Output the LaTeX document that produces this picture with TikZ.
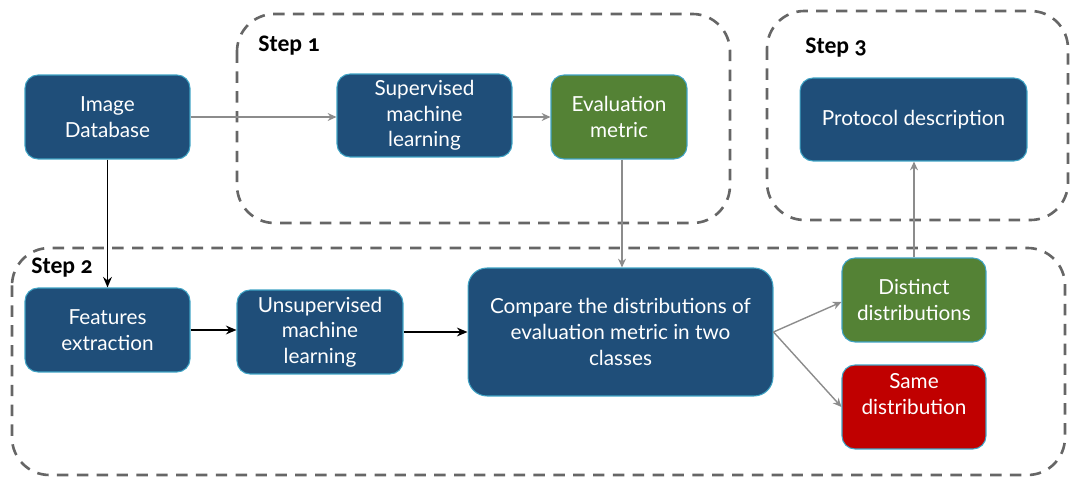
\documentclass[tikz,border=0pt]{standalone}
\usepackage{fontspec}
\setmainfont{Lato}
\newfontfamily\stepfont[Numbers=OldStyle]{Carlito}
\usetikzlibrary{arrows.meta}
\definecolor{dblue}{HTML}{1F4E79}
\definecolor{dgreen}{HTML}{548235}
\definecolor{dred}{HTML}{C00000}
\definecolor{edgec}{HTML}{3FA3C4}
\definecolor{regc}{HTML}{666666}
\definecolor{arrg}{HTML}{8C8C8C}
\tikzset{
  box/.style={draw=edgec, line width=0.6pt, rounded corners=0.26cm, text=white, align=center,
    font=\fontsize{11.8pt}{14.6pt}\selectfont, inner sep=2pt},
  bluebox/.style={box, fill=dblue},
  greenbox/.style={box, fill=dgreen},
  redbox/.style={box, fill=dred},
  region/.style={draw=regc, line width=1.5pt, dash pattern=on 6.5pt off 4.8pt, rounded corners=0.75cm},
  steplabel/.style={font=\stepfont\bfseries\fontsize{13.5pt}{15pt}\selectfont, anchor=west, inner sep=0pt},
  garrow/.style={draw=arrg, line width=0.8pt, -{Stealth[length=5pt,width=4.5pt]}},
  barrow/.style={draw=black, line width=1pt, -{Stealth[length=6pt,width=5pt]}},
}
\begin{document}
\begin{tikzpicture}[x=0.02cm, y=-0.02cm]
\useasboundingbox (0,0) rectangle (1072,479);
% regions
\draw[region] (237,14) rectangle (730,223);
\draw[region] (767,11) rectangle (1068,220);
\draw[region] (12,248) rectangle (1065,475);
\node[steplabel] (s1) at (258,46) {Step 1};
\node[steplabel] (s2) at (31,268) {Step 2};
\node[steplabel] (s3) at (805,48) {Step 3};
% nodes
\node[bluebox, minimum width=3.3cm, minimum height=1.68cm] (img) at (107.5,117) {Image\\Database};
\node[bluebox, minimum width=3.5cm, minimum height=1.66cm] (sup) at (424.5,115.5) {Supervised\\machine\\learning};
\node[greenbox, minimum width=2.72cm, minimum height=1.68cm] (eval) at (619,117) {Evaluation\\metric};
\node[bluebox, minimum width=4.54cm, minimum height=1.66cm] (proto) at (913.5,119.5) {Protocol description};
\node[bluebox, minimum width=3.3cm, minimum height=1.68cm] (feat) at (107.5,330) {Features\\extraction};
\node[bluebox, minimum width=3.32cm, minimum height=1.68cm] (unsup) at (320,332) {Unsupervised\\machine\\learning};
\node[bluebox, rounded corners=0.38cm, minimum width=6.1cm, minimum height=2.56cm] (comp) at (620.5,332) {Compare the distributions of\\evaluation metric in two\\classes};
\node[greenbox, minimum width=2.88cm, minimum height=1.68cm] (dist) at (914,300) {Distinct\\distributions};
\node[redbox, minimum width=2.88cm, minimum height=1.68cm] (same) at (914,407) {Same\\distribution\\\mbox{}};
% arrows
\draw[garrow] (img.east) -- (sup.west |- img.east);
\draw[garrow] (sup.east |- eval.west) -- (eval.west);
\draw[garrow] ([xshift=0.06cm]eval.south) -- ([xshift=0.06cm]eval.south |- comp.north);
\draw[barrow] (img.south) -- (feat.north);
\draw[barrow] (feat.east) -- (unsup.west |- feat.east);
\draw[barrow] (unsup.east) -- (comp.west);
\draw[garrow] (comp.east) -- ([yshift=-0.04cm]dist.west);
\draw[garrow] (comp.east) -- (same.west);
\draw[garrow] (dist.north) -- (dist.north |- proto.south);
\end{tikzpicture}
\end{document}
